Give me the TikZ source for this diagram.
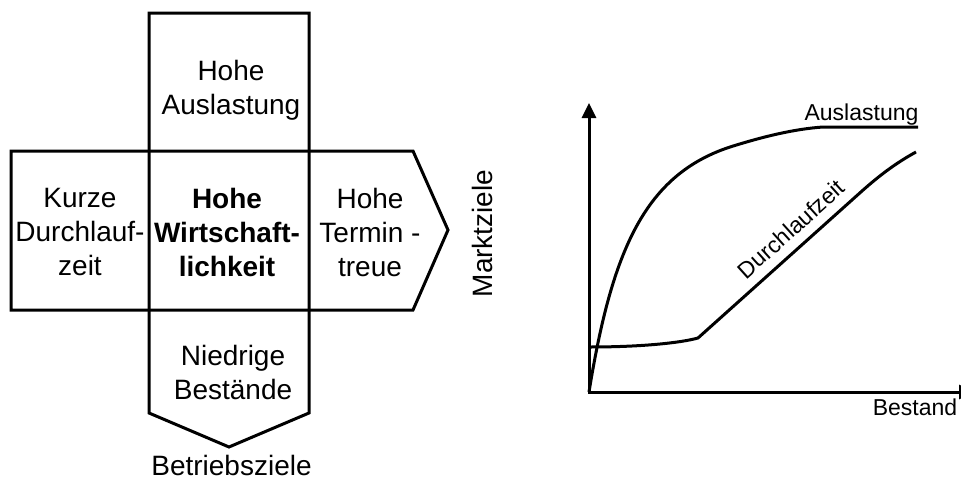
\documentclass[tikz,border=0pt]{standalone}
\usepackage{fontspec}
\setmainfont{Liberation Sans}
\usetikzlibrary{arrows.meta}
\begin{document}
\begin{tikzpicture}[x=1pt,y=-1pt,
  outline/.style={line width=3pt, line join=miter},
  boxtext/.style={font=\fontsize{28}{34}\selectfont, align=center, inner sep=0pt},
  graphtext/.style={font=\fontsize{23}{28}\selectfont, inner sep=0pt},
  curve/.style={line width=3pt, line join=round},
  axis/.style={line width=3pt, line join=miter, {Triangle[length=15pt,width=14pt]}-{Triangle[length=15pt,width=14pt]}}]
\useasboundingbox (0,0) rectangle (961,479);
% ---- left cross ----
\draw[outline] (11,151) -- (413,151) -- (448,230) -- (413,310) -- (11,310) -- cycle;
\draw[outline] (149,13) -- (309,13) -- (309,413) -- (229,447) -- (149,413) -- cycle;
\node[boxtext] (top) at (231,90) {Hohe\\Auslastung};
\node[boxtext] (left) at (80,232) {Kurze\\Durchlauf-\\zeit};
\node[boxtext, font=\fontsize{28}{34}\selectfont\bfseries] (center) at (227,232) {Hohe\\Wirtschaft-\\lichkeit};
\node[boxtext] (right) at (370,232) {Hohe\\Termin -\\treue};
\node[boxtext] (bottom) at (233,372) {Niedrige\\Best\"ande};
\node[boxtext, anchor=base] (betrieb) at (231.5,475) {Betriebsziele};
\node[boxtext, rotate=90] (markt) at (482,233.5) {Marktziele};
% ---- right graph ----
\coordinate (O) at (589,392);
\coordinate (ytop) at (589,103);
\coordinate (xend) at (974,392);
\draw[axis] (ytop) -- (O) -- (xend);
\coordinate (a0) at (589,392);
\coordinate (am) at (730,147);
\coordinate (a1) at (823,127);
\coordinate (a2) at (918,127);
\draw[curve] (a0) .. controls (612,250) and (645,175) .. (am)
  .. controls (765,136) and (795,129) .. (a1) -- (a2);
\coordinate (d0) at (590,347);
\coordinate (d1) at (698,338);
\coordinate (d2) at (862,191);
\coordinate (d3) at (916,152);
\draw[curve] (d0) .. controls (640,347) and (680,343) .. (d1) -- (d2) .. controls (880,175) and (896,163) .. (d3);
\node[graphtext, anchor=base] (auslabel) at (861.5,120) {Auslastung};
\node[graphtext, anchor=base] (bestlabel) at (915,415) {Bestand};
\node[graphtext, rotate=42] (dlzlabel) at (791,229) {Durchlaufzeit};
\end{tikzpicture}
\end{document}
